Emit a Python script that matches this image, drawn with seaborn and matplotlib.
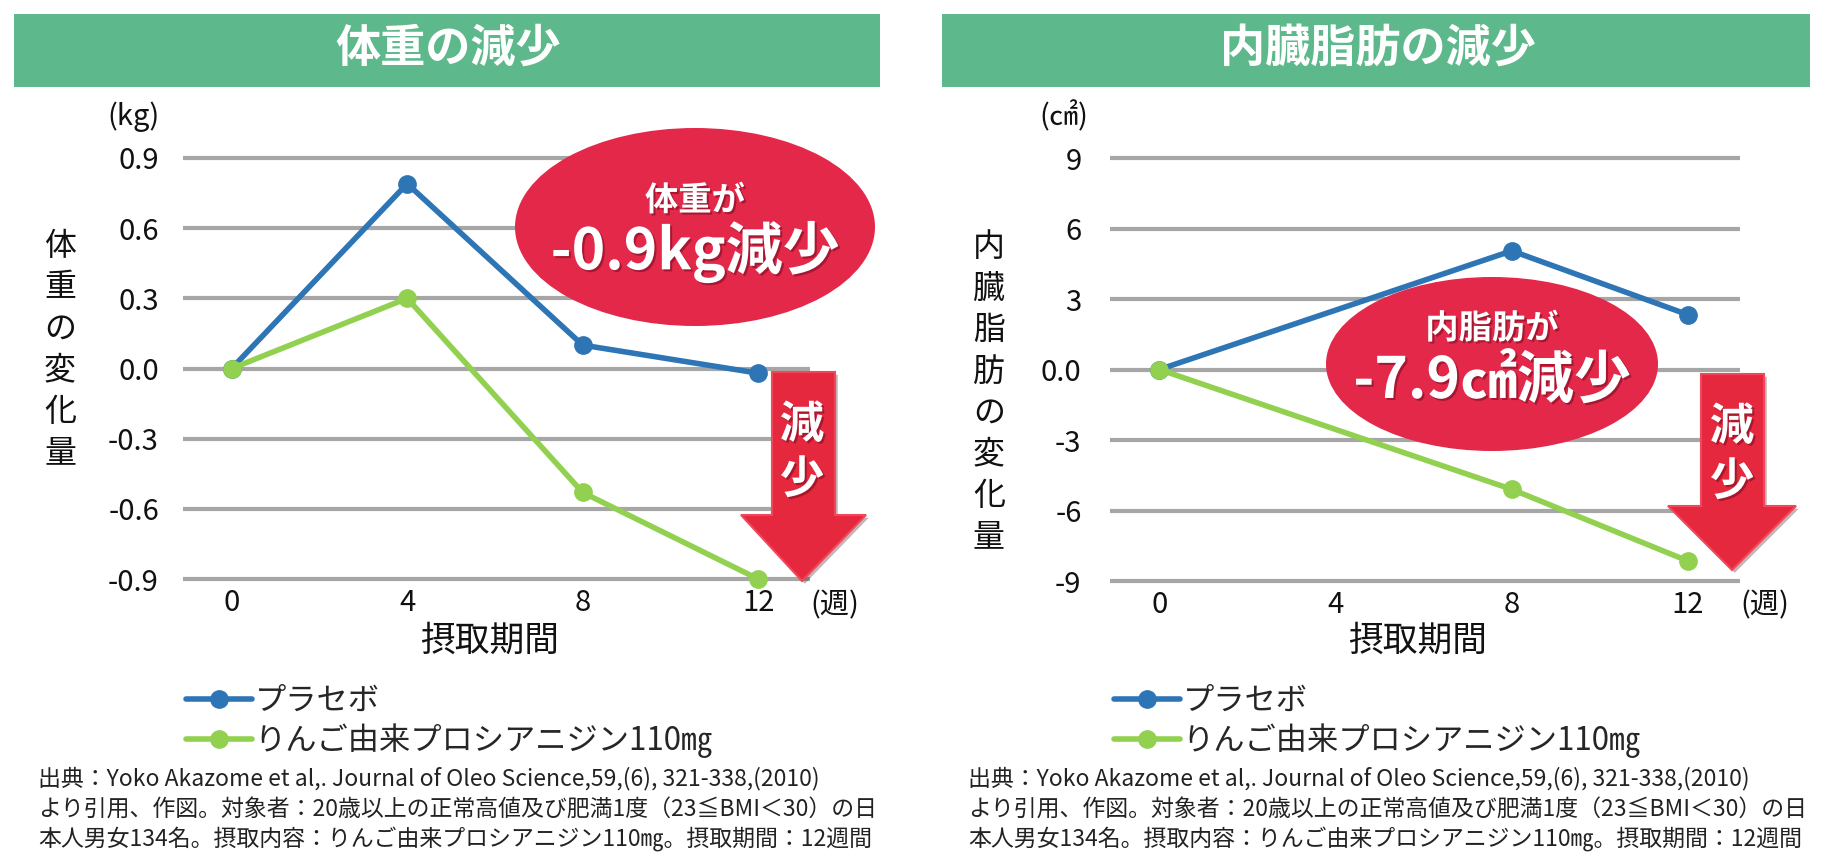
import matplotlib
matplotlib.use('Agg')
import matplotlib.pyplot as plt
import matplotlib.patheffects as pe
from matplotlib.patches import Ellipse, Polygon, Rectangle
import pandas as pd
import seaborn as sns

# 体重の変化量 (kg)
weeks = [0, 4, 8, 12]
weight_placebo = [0.0, 0.79, 0.10, -0.02]
weight_apple = [0.0, 0.30, -0.53, -0.90]

# 内臓脂肪の変化量 (cm2) - 4週は測定なし
fat_weeks = [0, 8, 12]
fat_placebo = [0.0, 5.05, 2.33]
fat_apple = [0.0, -5.10, -8.15]

groups = ['プラセボ', 'りんご由来プロシアニジン110㎎']
x_ticks = [0, 4, 8, 12]
weight_yticks = [-0.9, -0.6, -0.3, 0.0, 0.3, 0.6, 0.9]
weight_yticklabels = ['-0.9', '-0.6', '-0.3', '0.0', '0.3', '0.6', '0.9']
fat_yticks = [-9, -6, -3, 0, 3, 6, 9]
fat_yticklabels = ['-9', '-6', '-3', '0.0', '3', '6', '9']

titles = ['体重の減少', '内臓脂肪の減少']
ylabels = ['体重の変化量', '内臓脂肪の変化量']
units = ['(kg)', '(㎠)']
badge_small = ['体重が', '内脂肪が']
badge_big = ['-0.9kg減少', '-7.9㎠減少']
note = ['出典：Yoko Akazome et al,. Journal of Oleo Science,59,(6), 321-338,(2010)',
        'より引用、作図。対象者：20歳以上の正常高値及び肥満1度（23≦BMI＜30）の日',
        '本人男女134名。摂取内容：りんご由来プロシアニジン110㎎。摂取期間：12週間']

BLUE = '#2e75b6'
GREEN = '#92d050'
RED = '#e4284a'
HEAD = '#5db98b'
GRID = '#a6a6a6'

sns.set_theme(style='white')
plt.rcParams['font.family'] = ['Noto Sans CJK JP', 'DejaVu Sans']

W, H = 1823, 866
fig = plt.figure(figsize=(W / 100, H / 100), dpi=100)


def px_axes(x0, x1, y0, y1):
    return fig.add_axes([x0 / W, 1 - y1 / H, (x1 - x0) / W, (y1 - y0) / H])


df_w = pd.DataFrame({'week': weeks * 2,
                     'value': weight_placebo + weight_apple,
                     'group': [groups[0]] * 4 + [groups[1]] * 4})
df_f = pd.DataFrame({'week': fat_weeks * 2,
                     'value': fat_placebo + fat_apple,
                     'group': [groups[0]] * 3 + [groups[1]] * 3})

ax1 = px_axes(182.5, 810, 153.3, 583.7)
ax2 = px_axes(1110, 1740, 153.3, 585.7)

panels = [(ax1, df_w, weight_yticks, weight_yticklabels, (-0.92, 0.92), 17, 186),
          (ax2, df_f, fat_yticks, fat_yticklabels, (-9.2, 9.2), 20.5, 1114)]

for ax, df, yt, ytl, ylim, ypad, leg_x in panels:
    sns.lineplot(data=df, x='week', y='value', hue='group', hue_order=groups,
                 palette=[BLUE, GREEN], marker='o', markersize=13.5,
                 markeredgewidth=0, linewidth=4, clip_on=False, ax=ax)
    ax.set_xlim(-1.12, 13.18)
    ax.set_ylim(*ylim)
    ax.set_xticks(x_ticks)
    ax.set_xticklabels([str(v) for v in x_ticks])
    ax.set_yticks(yt)
    ax.set_yticklabels(ytl)
    ax.yaxis.grid(True, color=GRID, linewidth=3)
    ax.set_axisbelow(True)
    for s in ax.spines.values():
        s.set_visible(False)
    ax.tick_params(axis='both', length=0, labelsize=21, colors='#111111')
    ax.tick_params(axis='y', pad=ypad)
    ax.tick_params(axis='x', pad=3)
    ax.set_xlabel('')
    ax.set_ylabel('')
    ax.patch.set_alpha(0)
    sns.move_legend(ax, 'center left', bbox_to_anchor=(leg_x / W, 1 - 721.5 / H),
                    bbox_transform=fig.transFigure, title=None, frameon=False,
                    fontsize=22.5, handlelength=2.1, handletextpad=0.1,
                    labelspacing=0.2, borderpad=0, borderaxespad=0)

# 装飾用のオーバーレイ (ピクセル座標)
ov = fig.add_axes([0, 0, 1, 1], zorder=10)
ov.set_xlim(0, W)
ov.set_ylim(H, 0)
ov.axis('off')
ov.patch.set_alpha(0)

shadow = [pe.withSimplePatchShadow(offset=(1.5, -1.5), shadow_rgbFace='#6a0a1a', alpha=0.5)]

layout = [
    dict(head=(14, 880), title_x=448, ylab_x=60, ylab_y0=246, unit=(134, 117),
         week_x=835, xlab_x=490, note_x=38,
         ell=(695, 227, 360, 198), small_y=201, big_y=252,
         arrow=(772, 835, 372, 515, 741, 866, 802, 581)),
    dict(head=(942, 1810), title_x=1378, ylab_x=989, ylab_y0=247, unit=(1064, 117),
         week_x=1765, xlab_x=1418, note_x=968,
         ell=(1492, 364, 332, 174), small_y=329, big_y=381,
         arrow=(1701, 1764, 374, 506, 1668, 1796, 1732, 570)),
]

for i, L in enumerate(layout):
    hx0, hx1 = L['head']
    ov.add_patch(Rectangle((hx0, 14), hx1 - hx0, 73, color=HEAD, lw=0))
    ov.text(L['title_x'], 49, titles[i], color='white', fontsize=32.5, fontweight='bold',
            ha='center', va='center')
    for k, ch in enumerate(ylabels[i]):
        ov.text(L['ylab_x'], L['ylab_y0'] + k * 41.5, ch, fontsize=23, ha='center',
                va='center', color='#111111')
    ov.text(L['unit'][0], L['unit'][1], units[i], fontsize=21, ha='center', va='center',
            color='#111111')
    ov.text(L['week_x'], 605, '(週)', fontsize=21, ha='center', va='center', color='#111111')
    ov.text(L['xlab_x'], 641, '摂取期間', fontsize=25, ha='center', va='center', color='#111111')
    for k, line in enumerate(note):
        ov.text(L['note_x'], 779 + k * 30, line, fontsize=16.5, ha='left', va='center',
                color='#222222')

    cx, cy, ew, eh = L['ell']
    ov.add_patch(Ellipse((cx, cy), ew, eh, color=RED, lw=0))
    ov.text(cx, L['small_y'], badge_small[i], color='white', fontsize=24, fontweight='bold',
            ha='center', va='center', path_effects=shadow)
    ov.text(cx, L['big_y'], badge_big[i], color='white', fontsize=41, fontweight='bold',
            ha='center', va='center', path_effects=shadow)

    sx0, sx1, top, hy, hx_l, hx_r, tx, ty = L['arrow']
    ov.add_patch(Polygon([(sx0, top), (sx1, top), (sx1, hy), (hx_r, hy), (tx, ty),
                          (hx_l, hy), (sx0, hy)], closed=True, facecolor='#e6283f',
                         edgecolor='#f0475a', lw=1.5,
                         path_effects=[pe.withSimplePatchShadow(offset=(2, -2), alpha=0.3)]))
    ov.text(tx, top + 53, '減', color='white', fontsize=32, fontweight='bold',
            ha='center', va='center', path_effects=shadow)
    ov.text(tx, top + 108, '少', color='white', fontsize=32, fontweight='bold',
            ha='center', va='center', path_effects=shadow)

fig.savefig('out.png', dpi=100)
